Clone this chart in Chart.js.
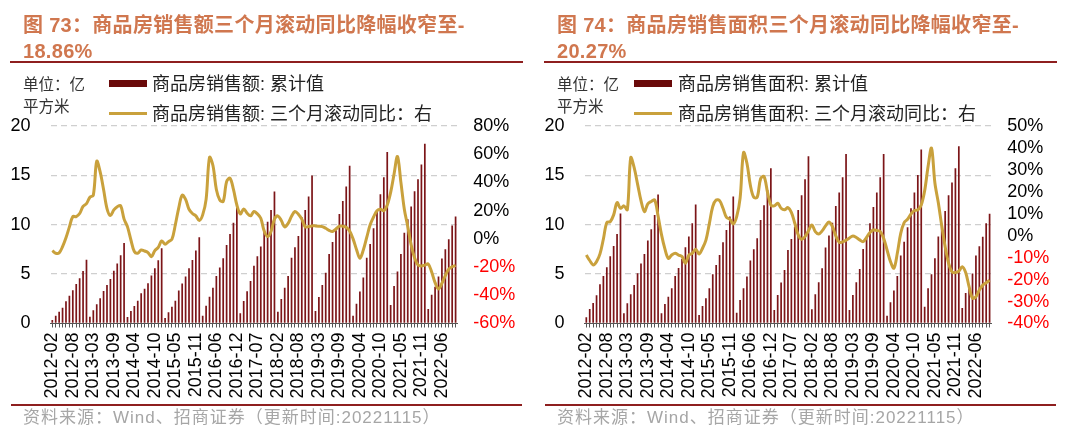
<!DOCTYPE html>
<html>
<head>
<meta charset="utf-8">
<script src="https://cdn.jsdelivr.net/npm/chart.js@4.4.0/dist/chart.umd.min.js"></script>
<style>
body{margin:0;width:1080px;height:439px;background:#fff;position:relative;overflow:hidden;font-family:"Liberation Sans","Noto Sans CJK SC",sans-serif;}
.abs{position:absolute;white-space:nowrap;}
.title{font-size:20px;font-weight:bold;color:#D0774F;line-height:26.7px;top:11.5px;letter-spacing:0.3px;}
.rule{position:absolute;height:2px;background:#8E1F1F;}
.unit{font-size:15.5px;color:#333;line-height:22px;top:74px;}
.leg{font-size:18px;color:#222;line-height:20px;}
.swbar{position:absolute;height:7px;top:80px;width:38px;background:#6A0A0A;}
.swline{position:absolute;height:3px;top:112px;width:38px;background:#C9A13C;}
.src{font-size:17px;color:#A6A6A6;line-height:20px;top:408px;letter-spacing:1px;}
canvas{position:absolute;top:0;}
</style>
</head>
<body>
<canvas id="c1" width="540" height="439" style="left:0"></canvas>
<canvas id="c2" width="540" height="439" style="left:534px"></canvas>

<div class="abs title" style="left:23px">图 73：商品房销售额三个月滚动同比降幅收窄至-<br>18.86%</div>
<div class="rule" style="left:10px;top:61px;width:513px"></div>
<div class="abs unit" style="left:23px">单位：亿<br>平方米</div>
<div class="swbar" style="left:109px"></div>
<div class="swline" style="left:109px"></div>
<div class="abs leg" style="left:152px;top:74px">商品房销售额: 累计值</div>
<div class="abs leg" style="left:152px;top:104px">商品房销售额: 三个月滚动同比：右</div>
<div class="rule" style="left:11px;top:404px;width:511px"></div>
<div class="abs src" style="left:23px">资料来源：Wind、招商证券（更新时间:20221115）</div>

<div class="abs title" style="left:557px">图 74：商品房销售面积三个月滚动同比降幅收窄至-<br>20.27%</div>
<div class="rule" style="left:544px;top:61px;width:513px"></div>
<div class="abs unit" style="left:557px">单位：亿<br>平方米</div>
<div class="swbar" style="left:634px"></div>
<div class="swline" style="left:634px"></div>
<div class="abs leg" style="left:678px;top:74px">商品房销售面积: 累计值</div>
<div class="abs leg" style="left:678px;top:104px">商品房销售面积: 三个月滚动同比：右</div>
<div class="rule" style="left:545px;top:404px;width:511px"></div>
<div class="abs src" style="left:557px">资料来源：Wind、招商证券（更新时间:20221115）</div>

<script>
// months: Feb..Dec each year (Jan merged into Feb), 2012-02 .. 2022-10
const years = [2012, 2013, 2014, 2015, 2016, 2017, 2018, 2019, 2020, 2021, 2022];
const monthNames = ['02', '03', '04', '05', '06', '07', '08', '09', '10', '11', '12'];
const months = [];
years.forEach(y => monthNames.forEach(m => months.push(y + '-' + m)));
months.length = 119;

// 商品房销售额 累计值
const salesAmount = [
    0.35, 0.79, 1.2, 1.6, 2.25, 2.82, 3.36, 4.0, 4.58, 5.32, 6.45,
    0.69, 1.33, 1.94, 2.55, 3.3, 3.9, 4.5, 5.35, 6.07, 6.9, 8.14,
    0.66, 1.27, 1.77, 2.31, 3.06, 3.53, 4.07, 4.85, 5.59, 6.4, 7.63,
    0.56, 1.13, 1.7, 2.31, 3.33, 4.04, 4.75, 5.59, 6.44, 7.38, 8.73,
    0.79, 1.81, 2.72, 3.63, 4.81, 5.66, 6.6, 7.96, 9.07, 10.19, 11.76,
    1.03, 2.28, 3.26, 4.31, 5.86, 6.8, 7.79, 9.27, 10.3, 11.5, 13.37,
    1.2, 2.48, 3.63, 4.81, 6.67, 7.72, 8.87, 10.76, 11.5, 12.86, 14.99,
    1.27, 2.69, 3.9, 5.15, 7.04, 8.26, 9.44, 11.1, 12.4, 13.87, 15.97,
    0.79, 2.0, 3.23, 4.65, 6.67, 8.06, 9.64, 11.5, 13.1, 14.8, 17.36,
    1.88, 3.8, 5.26, 7.04, 9.2, 10.56, 11.84, 13.4, 14.6, 16.1, 18.19,
    1.47, 2.92, 3.73, 4.75, 6.57, 7.52, 8.53, 9.92, 10.83
];
// 商品房销售额 三个月滚动同比 (%)
const amountYoY = [
    -8.3, -10.2, -9.9, -5.5, 0.8, 8.5, 15.8, 15.8, 18, 23, 25,
    29.5, 31, 55, 47.5, 35, 21.5, 16.5, 20.5, 22.8, 23.4, 14,
    8.5, -0.8, -9, -10.2, -7.9, -8.6, -9.7, -12.6, -8.3, -6, -1.5,
    -3.8, -2, -0.3, 10, 22, 31, 28, 21, 18, 16.3, 13,
    17, 28, 57.8, 52, 35, 27.6, 26.5, 40.6, 43, 35, 24,
    17.7, 21.2, 18.2, 16.3, 19.4, 17.7, 14.6, 5.5, 1.6, 5.2, 14,
    16.3, 13, 8.5, 11, 16, 19.4, 17.5, 14, 8.5, 8.7, 9.2,
    9.2, 9, 8.7, 7.5, 6, 5.2, 7, 9, 9, 8.2, 5.5,
    0, -7.5, -13.8, -7.9, 1, 10, 15.5, 20, 21, 20, 24,
    33, 46, 58.4, 40, 21, 8.8, -4.3, -13.5, -18.6, -19.2, -18.6,
    -17.8, -23.5, -31, -35.5, -31.5, -26, -21.5, -19.8, -18.86
];

// 商品房销售面积 累计值
const salesArea = [
    0.63, 1.47, 2.08, 2.85, 3.97, 4.81, 5.69, 6.8, 7.85, 9.07, 11.13,
    1.03, 2.04, 2.96, 3.9, 5.08, 6.07, 7.04, 8.4, 9.54, 11.0, 13.06,
    1.03, 1.98, 2.72, 3.56, 4.81, 5.63, 6.54, 7.72, 8.8, 10.15, 12.06,
    0.86, 1.77, 2.55, 3.56, 4.98, 5.93, 6.94, 8.22, 9.47, 10.83, 12.85,
    1.1, 2.38, 3.56, 4.75, 6.37, 7.52, 8.63, 10.49, 11.97, 13.53, 15.73,
    1.37, 2.89, 4.14, 5.42, 7.45, 8.56, 9.81, 11.5, 13.0, 14.6, 16.94,
    1.44, 2.96, 4.17, 5.59, 7.69, 8.9, 10.2, 11.9, 13.26, 14.8, 17.17,
    1.37, 2.89, 4.17, 5.52, 7.55, 8.7, 10.15, 11.8, 13.26, 14.8, 17.16,
    0.79, 2.15, 3.33, 4.81, 6.88, 8.29, 9.74, 11.67, 13.26, 15.05, 17.61,
    1.7, 3.56, 4.98, 6.6, 8.8, 10.05, 11.4, 13.0, 14.27, 15.72, 17.94,
    1.57, 3.1, 3.98, 5.07, 6.89, 7.82, 8.78, 10.14, 11.12
];
// 商品房销售面积 三个月滚动同比 (%)
const areaYoY = [
    -8.8, -11.3, -13.3, -11.8, -8.3, -1.5, 6, 6.4, 9.5, 15.1, 12.5,
    13.6, 11.8, 35.6, 31, 23.5, 16, 11, 14.5, 15.6, 16.3, 9,
    0.5, -6, -10.3, -8.8, -8, -8.8, -9.5, -12.5, -8.8, -8, -6.2,
    -8.3, -5.7, -2, 5.5, 13.3, 16.3, 16, 12.5, 8.4, 7.5, 5.4,
    8.7, 17.1, 37.9, 33, 23, 17.5, 17.5, 26, 27, 20, 14,
    13.6, 14.8, 12.5, 11.8, 12.8, 10.6, 5.7, 0.4, -1.6, -0.4, 2.3,
    4.9, 1.9, 0.8, 2.2, 4.5, 6.2, 4.2, -0.1, -3, -2.8, -2,
    -1, -0.1, -0.8, -1.9, -2.7, -0.8, 1.5, 2.6, 2.4, 1.9, -1.2,
    -6.5, -11.8, -14.8, -8, 1.1, 6, 7.5, 9.9, 11.5, 11.8, 14,
    20.5, 31.5, 39.9, 24, 15, 4.5, -5, -12.5, -16.5, -16.8, -16.1,
    -14.1, -16.8, -23.2, -28.5, -27.8, -24.7, -22.5, -21.4, -20.27
];

Chart.defaults.font.family = '"Liberation Sans", "Noto Sans CJK SC", sans-serif';
Chart.defaults.color = '#000';

function makeChart(id, bars, yoy, rMin, rMax, rStep) {
    return new Chart(document.getElementById(id), {
        type: 'bar',
        data: {
            labels: months,
            datasets: [{
                type: 'line',
                data: yoy,
                yAxisID: 'y1',
                borderColor: '#C9A13C',
                borderWidth: 3,
                pointRadius: 0,
                tension: 0.35,
                order: 0
            }, {
                type: 'bar',
                data: bars,
                yAxisID: 'y',
                backgroundColor: '#7C1518',
                barPercentage: 0.5,
                categoryPercentage: 1,
                order: 1
            }]
        },
        options: {
            responsive: false,
            animation: false,
            layout: {padding: {top: 126}},
            plugins: {legend: {display: false}, tooltip: {enabled: false}},
            scales: {
                x: {
                    grid: {drawOnChartArea: false, tickLength: 4, color: '#555', offset: false},
                    border: {display: true, color: '#555'},
                    ticks: {
                        autoSkip: false, minRotation: 90, maxRotation: 90, padding: 5,
                        font: {size: 18},
                        callback: (v, i) => i % 6 === 0 ? months[i] : ''
                    },
                    afterFit: s => { s.height = 115.5; }
                },
                y: {
                    position: 'left', min: 0, max: 20,
                    ticks: {stepSize: 5, padding: 20, font: {size: 18}},
                    grid: {
                        drawTicks: false, lineWidth: 1.3,
                        color: c => c.tick.value === 0 ? 'rgba(0,0,0,0)' : '#CFCFCF'
                    },
                    border: {display: false, dash: [6, 4]},
                    afterFit: s => { s.width = 50.6; }
                },
                y1: {
                    position: 'right', min: rMin, max: rMax,
                    ticks: {
                        stepSize: rStep, padding: 16, font: {size: 18}, autoSkip: false,
                        color: c => c.tick.value < 0 ? '#FF0000' : '#000',
                        callback: v => v + '%'
                    },
                    grid: {drawOnChartArea: false, drawTicks: false},
                    border: {display: false},
                    afterFit: s => { s.width = 82.7; }
                }
            }
        }
    });
}

makeChart('c1', salesAmount, amountYoY, -60, 80, 20);
makeChart('c2', salesArea, areaYoY, -40, 50, 10);
</script>
</body>
</html>
